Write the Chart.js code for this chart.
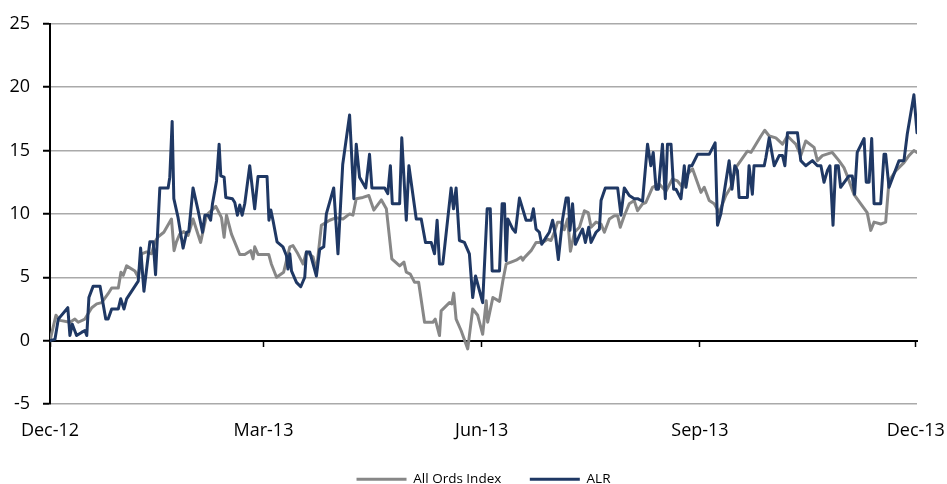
<!DOCTYPE html>
<html><head><meta charset="utf-8">
<script src="https://cdn.jsdelivr.net/npm/chart.js@4.4.0/dist/chart.umd.min.js"></script>
<style>html,body{margin:0;padding:0;background:#fff;}</style>
</head><body>
<canvas id="c" width="947" height="484"></canvas>
<script>
const tickDays = [0, 90, 182, 274, 365];
const tickLabels = ['Dec-12', 'Mar-13', 'Jun-13', 'Sep-13', 'Dec-13'];
const seriesNames = ['All Ords Index', 'ALR'];

const allOrdsDays = [0,2.5,4.2,8.4,10.5,11.9,14.7,17.6,19.7,21.8,24.5,26,28.8,29.9,30.9,32.3,35.8,37.2,38.6,40.7,42.8,44.2,45.6,48,51.2,52.3,53.3,54.7,56.4,58.2,60.3,63.5,66,69.9,72.3,73.4,74.4,76.5,80,82.1,84.6,85.6,86.3,87.7,92.2,93.3,95.5,98.5,101.1,102.4,104.5,106.7,108.1,110.9,112.3,114.4,117.9,120.7,123.5,126.3,127.7,129.1,131.9,134.4,136.5,139.7,141.8,144.1,147.4,149.2,150.2,151.9,153.7,155.4,157.9,161.4,162.4,164.2,164.9,168.4,169.4,170.2,171.2,173.3,176.1,178.2,180.3,182.4,183.9,184.5,186.7,189.5,190.9,192.3,194.4,196.5,198.6,199.3,200,202.8,204.9,207.7,209.8,211.2,212.6,214,215.5,216.8,218.2,219.4,221.1,223.2,225.3,226.9,228.1,230.2,232.3,233.7,235.8,237.9,239.3,240.4,242.1,244.2,246.3,247.7,249.8,251.2,254,256.8,259.7,262.4,264.5,266.7,268.8,270.9,274.4,275.8,277.9,280,282.1,284.9,287,289.1,291.2,294,295.5,297.6,299.7,301.3,303.2,306,308.8,310.9,313,314.4,316.5,318.6,322.1,323.5,325.6,329.8,332.6,334.7,336.1,338.9,341.8,344.5,346,347.4,350.2,352.3,353.7,356.5,360,362.1,364.2,365.5];
const allOrdsValues = [0,2.0,1.6,1.45,1.7,1.45,1.7,2.6,2.9,3.0,3.7,4.15,4.15,5.4,5.15,5.9,5.5,5.0,6.85,7.0,6.85,7.8,8.2,8.55,9.6,7.1,7.8,8.4,8.6,8.3,9.6,7.75,9.9,10.6,9.7,8.15,9.9,8.4,6.8,6.8,7.1,6.45,7.4,6.8,6.8,6.05,5.0,5.4,7.4,7.5,6.85,6.05,7.0,6.6,5.5,9.1,9.5,9.7,9.6,10.0,9.9,11.2,11.3,11.45,10.3,11.1,10.4,6.45,5.9,6.2,5.4,5.25,4.6,4.6,1.45,1.45,1.7,0.4,2.35,3.0,2.9,3.75,1.7,0.8,-0.65,2.5,2.0,0.5,3.15,1.45,3.4,3.1,4.7,6.05,6.2,6.35,6.6,6.35,6.55,7.1,7.75,7.75,8.0,7.9,8.55,9.35,9.35,8.75,9.6,7.05,8.55,8.95,10.25,10.1,8.95,9.35,9.2,8.55,9.6,9.85,9.85,8.95,9.85,10.8,11.05,10.25,10.8,10.9,12.1,12.35,11.8,12.75,12.6,12.1,13.15,13.55,11.7,12.1,11.05,10.8,10.1,11.45,12.1,13.65,14.2,14.95,14.85,15.5,16.15,16.6,16.15,16.0,15.5,16.15,15.75,15.5,14.6,15.75,15.25,14.2,14.6,14.85,14.2,13.65,13.0,11.55,10.8,10.1,8.7,9.35,9.2,9.35,12.6,13.4,14.05,14.6,15.0,14.85];

const alrDays = [0,2.1,3.5,7.5,8.4,9.4,11.2,13.3,14.7,15.5,16.4,18.2,21.1,23.5,24.5,26,28.8,29.8,31.2,32.3,37.2,38.2,39.6,42.1,43.5,44.5,46.3,49.8,50.5,51.5,52.2,54,56.1,57.6,58.5,60.3,62.4,64.3,65.3,66.7,67.7,68.5,70.2,71.3,72,73.4,74.1,76.9,77.9,79,80,81,82.1,84.2,86.3,87.7,91.5,92.3,93.1,94,95.7,98.2,99.7,100.3,101.1,101.8,103.9,105.7,107.4,108.1,109.5,112.3,113.7,115.4,116.5,119.6,121.4,123.4,126.3,128.1,129.1,130.5,133.1,134.7,135.7,141.1,142.4,143.5,144.3,147.4,148.3,150.2,151.3,154.4,156.5,158.3,160.7,162.1,163.2,164.2,165.6,169.1,170.1,171.2,172.6,174.7,176.8,178.2,179.4,182.4,184.3,185.6,186.4,189.5,190.6,191.6,192.3,193,195.1,196.2,197.9,200.7,202.8,203.8,204.9,206.3,207.3,209.1,210.5,211.9,213.1,214.3,216.1,217.6,218.5,219.2,220.3,221.5,223.2,224.5,225.7,227.1,228.1,230.2,231.6,232.3,234.1,239.3,240.7,242.1,244.2,246.3,247.7,249.8,251.9,253.3,254.3,255.5,256.5,258.2,259.4,260.3,261.8,262.9,263.9,266,267.4,268.1,269.5,270.6,273,277.9,280.4,281.4,282.8,286.3,287.5,288.7,289.8,290.5,294,294.7,296.1,296.8,301.1,301.8,303.2,305.3,307.4,308.8,309.8,310.9,315.1,316.5,318.6,321.4,323.5,325,326.3,327.7,328.8,330.1,331.2,332.3,333.3,336.8,338.2,339.2,340.3,343.2,344.1,345.3,346.4,347.4,350.2,351.6,352.3,353.7,357.9,360,361.4,364.2,365.5];
const alrValues = [0,0.1,1.7,2.6,0.4,1.3,0.4,0.65,0.8,0.4,3.4,4.3,4.3,1.7,1.7,2.5,2.5,3.3,2.5,3.3,4.7,7.3,3.9,7.8,7.8,5.2,12.05,12.05,12.9,17.3,11.2,9.7,7.3,8.55,8.6,12.05,10.3,8.55,9.9,9.9,9.5,10.8,12.6,15.5,13.0,12.9,11.3,11.2,10.9,9.9,10.7,9.9,10.8,13.8,10.4,12.95,12.95,9.5,10.3,9.5,7.8,7.4,6.7,5.65,6.85,5.5,4.6,4.25,5.0,7.0,7.0,5.1,7.2,7.4,10,12.05,6.85,13.9,17.8,11.2,15.5,12.9,12.05,14.7,12.05,12.05,11.6,13.8,10.8,10.8,16.0,9.5,13.8,9.6,9.6,7.75,7.75,6.85,9.5,6.05,6.05,12.05,10.4,12.05,7.9,7.75,6.85,3.4,5.1,3.0,10.4,10.4,5.5,5.5,10.8,10.8,6.3,9.6,8.8,8.55,11.25,9.5,9.5,10.4,8.8,8.55,7.6,8.15,8.55,9.5,8.3,6.4,9.6,11.25,11.25,8.7,10.8,7.6,8.3,8.8,7.75,8.95,7.75,8.55,8.8,11.05,12.05,12.05,9.9,12.05,11.45,11.2,11.2,11.0,15.5,13.8,14.85,11.95,11.95,15.5,11.2,15.5,15.5,11.95,11.95,11.2,13.8,12.1,13.8,13.8,14.7,14.7,15.6,9.1,10.0,14.2,11.95,13.8,13.4,11.3,11.3,13.8,11.55,13.8,13.8,14.45,16.0,13.8,14.6,14.6,13.8,16.4,16.4,14.2,13.8,14.2,13.8,13.8,12.5,13.4,13.8,9.1,13.8,13.8,12.1,13.0,13.0,11.55,14.85,15.95,12.5,12.5,15.95,10.8,10.8,14.7,14.7,12.1,14.2,14.2,16.3,19.4,16.4];

const GRAY = '#878787';
const NAVY = '#1F3864';
const FONT = 'Open Sans';

const toPoints = (xs, ys) => xs.map((x, i) => ({x: x, y: ys[i]}));
const setTicks = (scale) => { scale.ticks = tickDays.map(v => ({value: v})); };
const labelFor = (v) => { const i = tickDays.indexOf(v); return i >= 0 ? tickLabels[i] : ''; };

new Chart(document.getElementById('c'), {
  type: 'line',
  data: {
    datasets: [
      { label: seriesNames[1], data: toPoints(alrDays, alrValues), borderColor: NAVY, backgroundColor: NAVY,
        borderWidth: 3, pointRadius: 0, tension: 0, borderJoinStyle: 'round', borderCapStyle: 'round', xAxisID: 'x', yAxisID: 'y' },
      { label: seriesNames[0], data: toPoints(allOrdsDays, allOrdsValues), borderColor: GRAY, backgroundColor: GRAY,
        borderWidth: 3, pointRadius: 0, tension: 0, borderJoinStyle: 'round', borderCapStyle: 'round', xAxisID: 'x', yAxisID: 'y' }
    ]
  },
  options: {
    responsive: false,
    animation: false,
    layout: { padding: { left: 0, right: 30, top: 22, bottom: -12 } },
    plugins: {
      tooltip: { enabled: false },
      legend: {
        position: 'bottom',
        fullSize: false,
        labels: {
          font: { family: FONT, size: 13.5 },
          color: '#000',
          boxWidth: 50,
          boxHeight: 3,
          padding: 28.5,
          sort: (a, b) => b.datasetIndex - a.datasetIndex,
          generateLabels: (chart) => Chart.defaults.plugins.legend.labels.generateLabels(chart).map(it => {
            const ds = chart.data.datasets[it.datasetIndex];
            it.fillStyle = ds.borderColor; it.strokeStyle = ds.borderColor; it.lineWidth = 0;
            return it;
          })
        }
      }
    },
    scales: {
      y: {
        type: 'linear', position: 'left', min: -5, max: 25,
        ticks: { stepSize: 5, color: '#000', font: { family: FONT, size: 18 }, padding: 13 },
        grid: { color: '#AAAAAA', lineWidth: 1.5, tickLength: 7, tickColor: '#000', tickWidth: 2 },
        border: { display: true, color: '#000', width: 2 },
        afterFit: (s) => { s.width = 50; }
      },
      x: {
        type: 'linear', position: { y: 0 }, min: 0, max: 365.5,
        afterBuildTicks: setTicks,
        ticks: { display: false },
        grid: { drawOnChartArea: false, drawTicks: true, tickLength: 5, tickColor: '#000', tickWidth: 1.5 },
        border: { display: true, color: '#000', width: 2 }
      },
      x2: {
        type: 'linear', position: 'bottom', min: 0, max: 365.5,
        afterBuildTicks: setTicks,
        ticks: { color: '#000', font: { family: FONT, size: 18, lineHeight: 3 }, padding: 0, maxRotation: 0, autoSkip: false, callback: labelFor },
        grid: { display: false, drawTicks: false, tickLength: 0 },
        border: { display: false },
        afterFit: (s) => { s.height = 40; }
      }
    }
  }
});
</script>
</body></html>
